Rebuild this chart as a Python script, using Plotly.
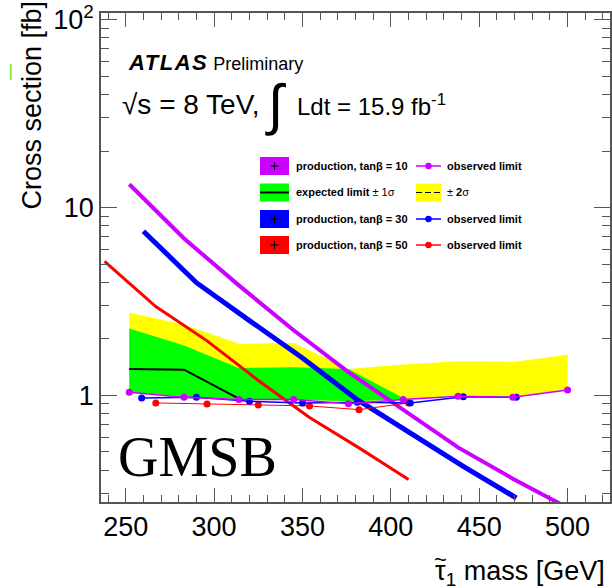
import plotly.graph_objects as go

# ---------------- data ----------------
# theory cross sections (fb)
m_tb10 = [252, 283, 314, 345, 376, 407, 438, 469, 500]
xs_tb10 = [13.3, 6.84, 3.85, 2.22, 1.33, 0.84, 0.528, 0.360, 0.252]
m_tb30 = [260, 290, 320, 350, 381, 411, 441, 471]
xs_tb30 = [7.48, 3.98, 2.50, 1.58, 0.948, 0.63, 0.419, 0.284]
m_tb50 = [238, 267, 296, 325, 354, 382, 410]
xs_tb50 = [5.17, 2.97, 1.95, 1.20, 0.762, 0.525, 0.356]

# observed limits (fb)
obs_m10 = [252, 283, 314, 345, 376, 407, 438, 469, 500]
obs_10 = [1.037, 0.976, 0.949, 0.949, 0.903, 0.949, 0.988, 0.976, 1.069]
obs_m30 = [259, 290, 320, 350, 381, 411, 441, 471]
obs_30 = [0.969, 0.976, 0.929, 0.911, 0.918, 0.911, 0.984, 0.976]
obs_m50 = [267, 296, 325, 354, 382, 410]
obs_50 = [0.911, 0.900, 0.889, 0.878, 0.839, 0.911]

# expected limit and bands (tan beta = 10 grid)
band_m = [252, 283, 314, 345, 376, 407, 438, 469, 500]
exp_m = [252, 283, 314]
exp_val = [1.38, 1.37, 0.96]
g_m = [252, 283, 314, 345, 376, 407]
g_up = [2.27, 1.84, 1.40, 1.41, 1.38, 0.969]
g_lo = [1.04, 0.99, 0.955, 0.95, 0.93, 0.95]
y_up = [2.75, 2.38, 1.88, 1.90, 1.38, 1.458, 1.517, 1.507, 1.647]
y_lo = [1.04, 0.99, 0.955, 0.95, 0.93, 0.95, 0.99, 0.975, 1.07]

x_ticks = [250, 300, 350, 400, 450, 500]
y_ticks = [1, 10, 100]
y_ticktext = ["1", "10", "10<sup>2</sup>"]

PURPLE = "#CC00FF"
BLUE = "#0000FF"
RED = "#FF0000"
GREEN = "#00FF00"
YELLOW = "#FFFF00"

fig = go.Figure()

# yellow band
fig.add_trace(go.Scatter(x=band_m + band_m[::-1], y=y_up + y_lo[::-1], fill="toself",
                         fillcolor=YELLOW, line=dict(width=0), mode="lines", hoverinfo="skip"))
# green band
fig.add_trace(go.Scatter(x=g_m + g_m[::-1], y=g_up + g_lo[::-1], fill="toself",
                         fillcolor=GREEN, line=dict(width=0), mode="lines", hoverinfo="skip"))
# expected
fig.add_trace(go.Scatter(x=exp_m, y=exp_val, mode="lines", line=dict(color="black", width=2)))

# theory lines
fig.add_trace(go.Scatter(x=m_tb50, y=xs_tb50, mode="lines", line=dict(color=RED, width=3)))
fig.add_trace(go.Scatter(x=m_tb30, y=xs_tb30, mode="lines", line=dict(color=BLUE, width=5)))
fig.add_trace(go.Scatter(x=m_tb10, y=xs_tb10, mode="lines", line=dict(color=PURPLE, width=4)))

# observed
fig.add_trace(go.Scatter(x=obs_m50, y=obs_50, mode="lines+markers",
                         line=dict(color=RED, width=1), marker=dict(color=RED, size=7)))
fig.add_trace(go.Scatter(x=obs_m30, y=obs_30, mode="lines+markers",
                         line=dict(color=BLUE, width=1.5), marker=dict(color=BLUE, size=7)))
fig.add_trace(go.Scatter(x=obs_m10, y=obs_10, mode="lines+markers",
                         line=dict(color=PURPLE, width=1.5), marker=dict(color=PURPLE, size=7)))

# ---------------- layout helpers ----------------
L, T, W, H = 101, 13, 509, 489


def px(x):
    return (x - L) / W


def py(y):
    return (T + H - y) / H


shapes = []
annotations = []


def rect(x0, y0, x1, y1, color):
    shapes.append(dict(type="rect", xref="paper", yref="paper", x0=px(x0), x1=px(x1),
                       y0=py(y1), y1=py(y0), fillcolor=color, line=dict(width=0), layer="above"))


def seg(x0, y0, x1, y1, color="black", width=1, dash="solid"):
    shapes.append(dict(type="line", xref="paper", yref="paper", x0=px(x0), x1=px(x1),
                       y0=py(y0), y1=py(y1), line=dict(color=color, width=width, dash=dash),
                       layer="above"))


def dot(xc, yc, r, color):
    shapes.append(dict(type="circle", xref="paper", yref="paper", x0=px(xc - r), x1=px(xc + r),
                       y0=py(yc + r), y1=py(yc - r), fillcolor=color, line=dict(width=0),
                       layer="above"))


def text(x, y, s, size=11, xanchor="left", family="Liberation Sans", color="black"):
    annotations.append(dict(xref="paper", yref="paper", x=px(x), y=py(y), text=s,
                            showarrow=False, xanchor=xanchor, yanchor="middle", align="left",
                            borderpad=0,
                            font=dict(size=size, family=family, color=color)))


# legend left column boxes
bx0, bx1 = 260, 289
rows = [166, 192.5, 219, 245]
rect(bx0, rows[0] - 9, bx1, rows[0] + 9, PURPLE)
seg(270.5, rows[0], 278.5, rows[0])
seg(274.5, rows[0] - 4, 274.5, rows[0] + 4)
rect(bx0, rows[1] - 9, bx1, rows[1] + 9, GREEN)
seg(bx0, rows[1], bx1, rows[1], width=2)
rect(bx0, rows[2] - 9, bx1, rows[2] + 9, BLUE)
seg(270.5, rows[2], 278.5, rows[2])
seg(274.5, rows[2] - 4, 274.5, rows[2] + 4)
rect(bx0, rows[3] - 9, bx1, rows[3] + 9, RED)
seg(270.5, rows[3], 278.5, rows[3])
seg(274.5, rows[3] - 4, 274.5, rows[3] + 4)

text(295, rows[0], "<b>production, tanβ = 10</b>")
text(295, rows[1], "<b>expected limit</b> ± 1σ")
text(295, rows[2], "<b>production, tanβ = 30</b>")
text(295, rows[3], "<b>production, tanβ = 50</b>")

# right column
lx0, lx1 = 416, 441
seg(lx0, rows[0], lx1, rows[0], color=PURPLE, width=1.5)
dot(428.5, rows[0], 3.2, PURPLE)
rect(lx0, rows[1] - 9, lx1, rows[1] + 9, YELLOW)
seg(lx0, rows[1], lx1, rows[1], width=1, dash="6px,3px")
seg(lx0, rows[2], lx1, rows[2], color=BLUE, width=1.5)
dot(428.5, rows[2], 3.2, BLUE)
seg(lx0, rows[3], lx1, rows[3], color=RED, width=1.5)
dot(428.5, rows[3], 3.2, RED)

text(446, rows[0], "<b>observed limit</b>")
text(446, rows[1], "± <b>2</b>σ")
text(446, rows[2], "<b>observed limit</b>")
text(446, rows[3], "<b>observed limit</b>")

# ATLAS label
text(127, 62, "<span style=\"font-size:22px;letter-spacing:1.5px\"><b><i>ATLAS</i></b></span> Preliminary", size=18)
text(121, 105, "√s = 8 TeV,", size=28)
text(275, 105, "∫", size=56, xanchor="center")
text(296, 105, "Ldt = 15.9 fb<sup>-1</sup>", size=24)

# GMSB
text(197, 457, "GMSB", size=56, family="Liberation Serif", xanchor="center")

# axis titles
annotations.append(dict(xref="paper", yref="paper", x=px(31), y=py(-1), text="Cross section [fb]",
                        textangle=-90, showarrow=False, xanchor="center", yanchor="top",
                        font=dict(size=27, family="Liberation Sans", color="black")))
annotations.append(dict(xref="paper", yref="paper", x=px(607), y=py(573),
                        text="τ<sub>1</sub> mass [GeV]", showarrow=False,
                        xanchor="right", yanchor="middle",
                        font=dict(size=27, family="Liberation Sans", color="black")))
# tilde over tau
annotations.append(dict(xref="paper", yref="paper", x=px(440), y=py(559),
                        text="~", showarrow=False, xanchor="center", yanchor="middle",
                        font=dict(size=22, family="Liberation Sans", color="black")))

# green artifact mark
shapes.append(dict(type="line", xref="paper", yref="paper", x0=px(10.7), x1=px(10.7),
                   y0=py(64), y1=py(80), line=dict(color="#88EE44", width=2)))

minor_y = [v * 10 ** e for e in (-1, 0, 1) for v in range(2, 10) if 0.27 < v * 10 ** e < 108]

fig.update_layout(
    width=612, height=588,
    margin=dict(l=L, r=612 - L - W, t=T, b=588 - T - H, autoexpand=False),
    paper_bgcolor="white", plot_bgcolor="white",
    showlegend=False,
    shapes=shapes, annotations=annotations,
    font=dict(family="Liberation Sans", color="black"),
    xaxis=dict(range=[236, 524], tickvals=x_ticks, ticks="inside", ticklen=14,
               tickcolor="#555", tickwidth=1, showgrid=False, zeroline=False,
               showline=True, linecolor="#555", linewidth=1.5, mirror="allticks",
               automargin=False,
               tickfont=dict(size=27, family="Liberation Sans", color="black"),
               minor=dict(dtick=10, ticks="inside", ticklen=7, tickcolor="#555", showgrid=False)),
    yaxis=dict(type="log", range=[-0.568, 2.036], tickvals=y_ticks, ticktext=y_ticktext,
               ticks="inside", ticklen=16, tickcolor="#555", tickwidth=1,
               showgrid=False, zeroline=False, showline=True, linecolor="#555",
               linewidth=1.5, mirror="allticks", automargin=False,
               tickfont=dict(size=27, family="Liberation Sans", color="black"),
               minor=dict(tickvals=minor_y, ticks="inside", ticklen=8, tickcolor="#555",
                          showgrid=False)),
)

fig.write_html("out.html", config={"displayModeBar": False},
               post_script="document.body.style.margin='0';document.body.style.padding='0';")
